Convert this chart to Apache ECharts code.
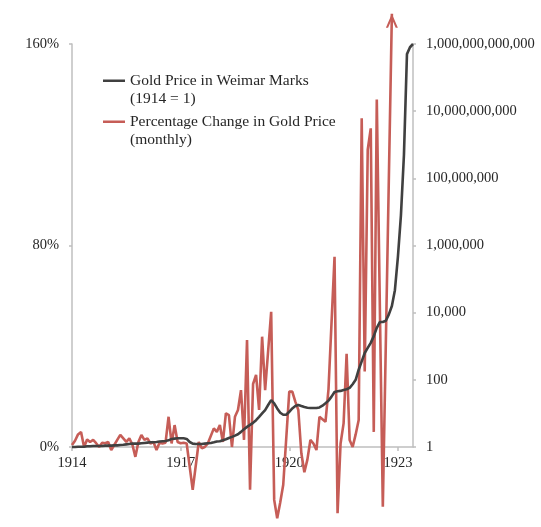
<!DOCTYPE html>
<html><head><meta charset="utf-8">
<script src="https://cdn.jsdelivr.net/npm/echarts@6/dist/echarts.min.js"></script>
<style>html,body{margin:0;padding:0;background:#fff}#c{width:541px;height:527px}</style>
</head><body><div id="c"></div>
<script>
// Monthly categories, Jan 1914 .. Jun 1923
const months = [];
for (let y = 1914; y <= 1923; y++) {
  for (let m = 1; m <= 12; m++) {
    if (months.length < 114) months.push(y + '-' + String(m).padStart(2, '0'));
  }
}
const yearTicks = ['1914', '1917', '1920', '1923'];
const leftTicks = [0, 80, 160];

// Gold price in Weimar marks (1914 = 1), right log axis
const goldPrice = [
  1, 1, 1.02, 1.02, 1.02, 1.05, 1.05, 1.07, 1.07, 1.07, 1.07, 1.1,
  1.1, 1.1, 1.12, 1.12, 1.15, 1.17, 1.2, 1.23, 1.26, 1.26, 1.26, 1.29,
  1.32, 1.35, 1.38, 1.38, 1.41, 1.45, 1.48, 1.51, 1.58, 1.74, 1.78, 1.82,
  1.82, 1.82, 1.74, 1.41, 1.26, 1.23, 1.23, 1.23, 1.26, 1.29, 1.32, 1.38,
  1.45, 1.48, 1.58, 1.7, 1.86, 2.0, 2.19, 2.4, 2.82, 3.39, 3.98, 4.57,
  5.25, 6.3, 7.9, 10, 12.6, 17.8, 25, 20, 14.1, 10.5, 9.1, 9.1,
  11.2, 14.1, 16.6, 17.8, 16.6, 15.5, 14.8, 14.5, 14.5, 14.5, 15.1, 17,
  20, 24, 31.6, 43.6, 45.7, 46.8, 50, 52.5, 57.5, 74, 100, 200,
  355, 630, 890, 1260, 2000, 3550, 5250, 5250, 5750, 8900, 15850, 46800,
  457000, 7.9e6, 5e8, 5e11, 8e11, 1e12
];

// Monthly percentage change in gold price, left axis (null = straight run)
const pctChange = [
  0.8, 2.5, 5, 6, 0, 3, 2, 2.8, 1.5, 0, 1.7, 1.5,
  2, -1.2, 0.8, 2.8, 4.8, 3.4, 2, 3.4, 1, -3.9, 2, 4.8,
  2.8, 3.4, 1.4, 2, -1.2, 1.7, 1.4, 1.7, 12, 1.4, 8.7, 2,
  1.5, 1.7, 1.4, null, -17, null, 2, -0.5, 0, 1.4, null, 7.4,
  6, 8.7, 2, 13.4, 12.7, 0, 12, 14.7, 22.6, 2.8, 42.5, -17,
  25, 28.6, 14.7, 43.8, 22.6, null, 53.7, -21, -28.3, -22, -15, null,
  22, 22, 18, 14.7, -2.5, -10, -5, 2.8, 1.4, -1.2, 12, 11,
  10, 23, null, 75.5, -26.3, 1.4, 9.4, 37, 2.8, 0, 5, 10.7,
  130.5, 30, 118, 126.5, 6, 138, null, -23.7, null, null, 172
];

const NAME_GOLD = 'Gold Price in Weimar Marks\n(1914 = 1)';
const NAME_PCT = 'Percentage Change in Gold Price\n(monthly)';
const RED = '#c65d57';
const BLACK = '#404040';
const AXIS = '#bfbfbf';
const TXT = '#262626';
const FONT = 'Liberation Serif';

let lastIdx = -1;
pctChange.forEach((v, i) => { if (v != null) lastIdx = i; });
const pctData = pctChange.map((v, i) => i === lastIdx ? {
  value: v,
  symbol: 'path://M0,14 L6,0 L12,14 L9.8,14 L6,5.2 L2.2,14 Z',
  symbolSize: [12, 14],
  symbolOffset: [0, 7]
} : v);

const legendIcon = 'path://M0,0 H22 V2.6 H0 Z M0,21 H0.05 V21.05 H0 Z';
const isYearTick = (i, v) => yearTicks.indexOf(String(v).slice(0, 4)) >= 0 && String(v).slice(5) === '01';

const chart = echarts.init(document.getElementById('c'), null, {renderer: 'canvas'});
chart.setOption({
  backgroundColor: '#fff',
  animation: false,
  textStyle: {fontFamily: FONT},
  grid: {left: 72, right: 128, top: 44, bottom: 80},
  legend: {
    orient: 'vertical', left: 103, top: 72, padding: 0, itemGap: 5,
    itemWidth: 22, itemHeight: 24,
    textStyle: {fontFamily: FONT, fontSize: 15.5, lineHeight: 18, color: TXT},
    data: [{name: NAME_GOLD, icon: legendIcon}, {name: NAME_PCT, icon: legendIcon}]
  },
  xAxis: {
    type: 'category', data: months, boundaryGap: false,
    axisLine: {lineStyle: {color: AXIS, width: 1.5}},
    axisTick: {interval: isYearTick, length: 4, lineStyle: {color: AXIS, width: 1.5}},
    axisLabel: {
      interval: isYearTick,
      formatter: v => v.slice(0, 4), margin: 9,
      fontFamily: FONT, fontSize: 14.5, color: TXT
    },
    splitLine: {show: false}
  },
  yAxis: [{
    type: 'value', min: leftTicks[0], max: leftTicks[2], interval: leftTicks[1] - leftTicks[0], position: 'left',
    axisLine: {show: true, lineStyle: {color: AXIS, width: 1.5}},
    axisTick: {show: true, length: 3, lineStyle: {color: AXIS, width: 1.5}},
    splitLine: {show: false},
    axisLabel: {formatter: '{value}%', margin: 13, fontFamily: FONT, fontSize: 14.5, color: TXT}
  }, {
    type: 'log', logBase: 10, min: 1, max: 1e12, interval: 2, position: 'right',
    axisLine: {show: true, lineStyle: {color: AXIS, width: 1.5}},
    axisTick: {show: true, length: 3, lineStyle: {color: AXIS, width: 1.5}},
    splitLine: {show: false},
    axisLabel: {formatter: v => Math.round(v).toLocaleString('en-US'), margin: 13, fontFamily: FONT, fontSize: 14.5, color: TXT}
  }],
  series: [{
    name: NAME_PCT, type: 'line', yAxisIndex: 0, data: pctData,
    symbol: 'none', showSymbol: true, showAllSymbol: true, connectNulls: true, clip: false,
    lineStyle: {color: RED, width: 2.6}, itemStyle: {color: RED}, z: 2
  }, {
    name: NAME_GOLD, type: 'line', yAxisIndex: 1, data: goldPrice,
    symbol: 'none', clip: false,
    lineStyle: {color: BLACK, width: 2.6}, itemStyle: {color: BLACK}, z: 3
  }]
});
</script></body></html>
